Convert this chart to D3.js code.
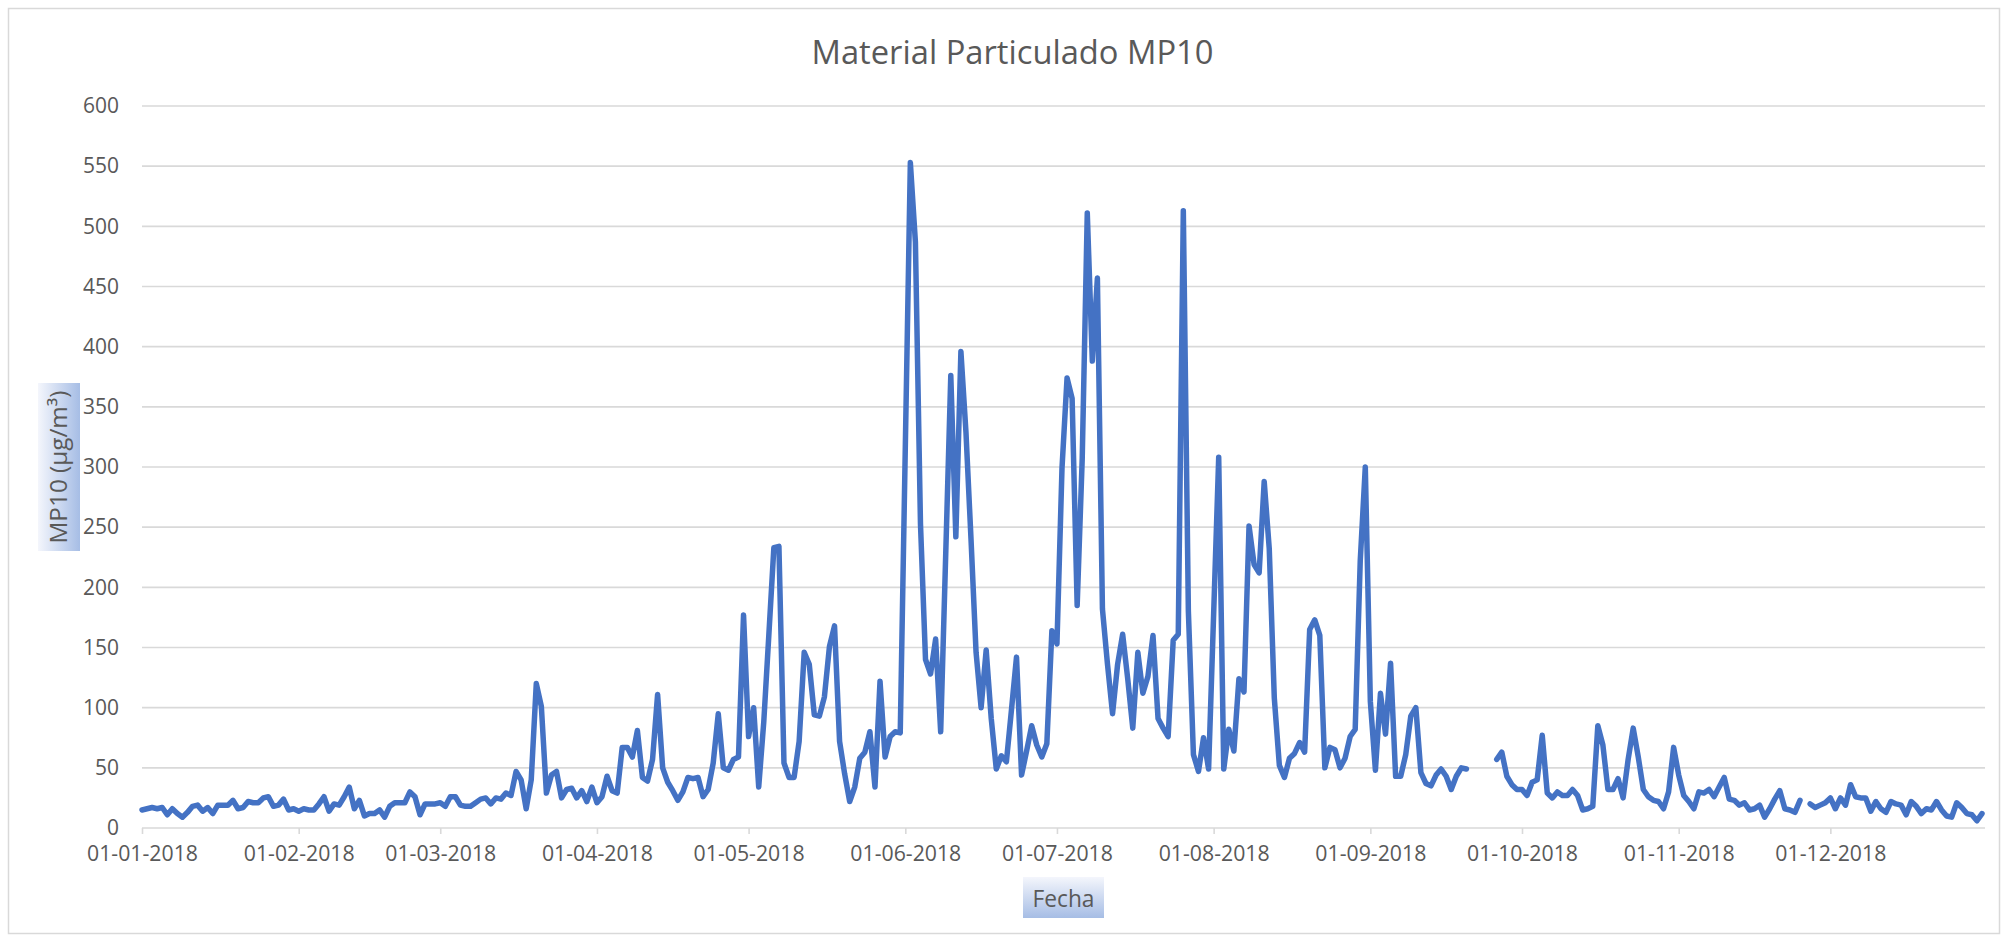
<!DOCTYPE html>
<html>
<head>
<meta charset="utf-8">
<script src="https://cdn.jsdelivr.net/npm/d3@7"></script>
<style>
  html, body { margin: 0; padding: 0; background: #fff; }
  svg { display: block; }
  text { font-family: "Open Sans", "Noto Sans", sans-serif; fill: #595959; }
</style>
</head>
<body>
<svg width="2008" height="942"></svg>
<script>
// daily MP10 values 2018 (null = no data)
const jan = [15, 16, 17, 16, 17, 11, 16, 12, 9, 13, 18, 19, 14, 17, 12, 19, 19, 19, 23, 16, 17, 22, 21, 21, 25, 26, 18, 19, 24, 15, 16];
const feb = [14, 16, 15, 15, 20, 26, 14, 20, 19, 26, 34, 16, 23, 10, 12, 12, 15, 9, 18, 21, 21, 21, 30, 26, 11, 20, 20, 20];
const mar = [21, 18, 26, 26, 19, 18, 18, 21, 24, 25, 20, 25, 24, 29, 27, 47, 40, 16, 40, 120, 101, 29, 44, 47, 25, 32, 33, 25, 31, 22, 34];
const apr = [21, 26, 43, 31, 29, 67, 67, 59, 81, 42, 39, 57, 111, 50, 38, 31, 23, 30, 42, 41, 42, 26, 32, 54, 95, 50, 48, 57, 59, 177];
const may = [76, 100, 34, 88, 160, 233, 234, 54, 42, 42, 72, 146, 136, 94, 93, 109, 151, 168, 72, 45, 22, 34, 58, 63, 80, 34, 122, 59, 76, 80, 79];
const jun = [316, 553, 487, 253, 140, 128, 157, 80, 228, 376, 242, 396, 329, 240, 146, 100, 148, 91, 49, 60, 55, 98, 142, 44, 64, 85, 69, 59, 70, 164];
const jul = [153, 299, 374, 357, 185, 307, 511, 388, 457, 182, 136, 95, 136, 161, 124, 83, 146, 112, 126, 160, 91, 83, 76, 156, 161, 513, 180, 61, 47, 75, 49];
const aug = [178, 308, 49, 82, 64, 124, 113, 251, 219, 212, 288, 232, 108, 52, 42, 58, 62, 71, 63, 165, 173, 160, 50, 67, 65, 50, 58, 76, 82, 222, 300];
const sep = [105, 48, 112, 78, 137, 43, 43, 61, 93, 100, 46, 37, 35, 44, 49, 43, 32, 43, 50, 49, null, null, null, null, null, 57, 63, 43, 36, 32];
const oct = [32, 27, 38, 40, 77, 29, 25, 30, 27, 27, 32, 27, 15, 16, 18, 85, 69, 32, 32, 41, 25, 57, 83, 59, 32, 26, 23, 22, 16, 30, 67];
const nov = [44, 27, 22, 16, 30, 29, 32, 26, 34, 42, 24, 23, 19, 21, 15, 16, 19, 9, 16, 24, 31, 16, 15, 13, 23, null, 20, 17, 19, 21];
const dec = [25, 16, 25, 19, 36, 26, 25, 25, 14, 22, 16, 13, 22, 20, 19, 11, 22, 18, 12, 16, 15, 22, 15, 10, 9, 21, 17, 12, 11, 6, 12];

const yTicks = [0, 50, 100, 150, 200, 250, 300, 350, 400, 450, 500, 550, 600];
const chartTitle = "Material Particulado MP10";
const xTitle = "Fecha";
const yTitle = "MP10 (µg/m³)";

const values = [jan, feb, mar, apr, may, jun, jul, aug, sep, oct, nov, dec].flat();
const data = values.map((v, i) => ({ date: new Date(Date.UTC(2018, 0, 1 + i)), value: v }));

const svg = d3.select("svg");
const width = +svg.attr("width");
const height = +svg.attr("height");

const plotLeft = 142, plotRight = 1982, plotTop = 106, plotBottom = 828;

// scale a text's font size so its rendered width matches the reference
function fitWidth(sel, target) {
    const w = sel.node().getComputedTextLength();
    const fs = parseFloat(sel.attr("font-size"));
    return fs * target / w;
}

// outer chart frame
svg.append("rect")
    .attr("x", 8.5).attr("y", 8.5)
    .attr("width", width - 17).attr("height", height - 17)
    .attr("fill", "#fff")
    .attr("stroke", "#d9d9d9")
    .attr("stroke-width", 1.5);

const x = d3.scaleUtc()
    .domain([new Date(Date.UTC(2018, 0, 1)), new Date(Date.UTC(2018, 11, 31))])
    .range([plotLeft, plotRight]);

const y = d3.scaleLinear()
    .domain([0, 600])
    .range([plotBottom, plotTop]);

// gridlines
svg.append("g")
    .selectAll("line")
    .data(yTicks.filter(t => t > 0))
    .enter().append("line")
    .attr("x1", plotLeft).attr("x2", plotRight + 3)
    .attr("y1", d => y(d)).attr("y2", d => y(d))
    .attr("stroke", "#d9d9d9")
    .attr("stroke-width", 1.6);

// x axis
const monthTicks = d3.utcMonth.range(new Date(Date.UTC(2018, 0, 1)), new Date(Date.UTC(2018, 11, 2)));
const xAxis = svg.append("g")
    .attr("transform", `translate(0,${plotBottom})`)
    .call(d3.axisBottom(x)
        .tickValues(monthTicks)
        .tickFormat(d3.utcFormat("%d-%m-%Y"))
        .tickSize(6)
        .tickSizeOuter(0)
        .tickPadding(12));
xAxis.select(".domain").attr("stroke", "#d9d9d9").attr("stroke-width", 1.6)
    .attr("d", `M${plotLeft},0H${plotRight + 3}`);
xAxis.selectAll(".tick line").attr("stroke", "#d9d9d9").attr("stroke-width", 1.6);
const xLabels = xAxis.selectAll(".tick text")
    .attr("font-size", 21).attr("fill", "#595959")
    .attr("font-family", "Open Sans");
const xFs = fitWidth(xLabels.filter((d, i) => i === 6), 111);
xLabels.attr("font-size", xFs);

// y axis labels
const yAxis = svg.append("g")
    .attr("transform", `translate(${plotLeft},0)`)
    .call(d3.axisLeft(y).tickValues(yTicks).tickSize(0).tickPadding(23));
yAxis.select(".domain").remove();
const yLabels = yAxis.selectAll(".tick text")
    .attr("font-size", 21).attr("fill", "#595959")
    .attr("font-family", "Open Sans");
const yFs = fitWidth(yLabels.filter(d => d === 600), 36);
yLabels.attr("font-size", yFs);

// data line
const line = d3.line()
    .defined(d => d.value != null)
    .x(d => x(d.date))
    .y(d => y(d.value));

svg.append("path")
    .datum(data)
    .attr("d", line)
    .attr("fill", "none")
    .attr("stroke", "#4472c4")
    .attr("stroke-width", 5.5)
    .attr("stroke-linejoin", "round")
    .attr("stroke-linecap", "round");

// title
const titleText = svg.append("text")
    .attr("x", 1012.5).attr("y", 64)
    .attr("text-anchor", "middle")
    .attr("font-size", 30)
    .text(chartTitle);
titleText.attr("font-size", fitWidth(titleText, 402));

// axis title boxes with gradient
const defs = svg.append("defs");
const gx = defs.append("linearGradient").attr("id", "gx")
    .attr("x1", 0).attr("y1", 0).attr("x2", 0).attr("y2", 1);
gx.append("stop").attr("offset", "0%").attr("stop-color", "#f4f6fc");
gx.append("stop").attr("offset", "100%").attr("stop-color", "#a6bde5");
const gy = defs.append("linearGradient").attr("id", "gy")
    .attr("x1", 0).attr("y1", 0).attr("x2", 1).attr("y2", 0);
gy.append("stop").attr("offset", "0%").attr("stop-color", "#f4f6fc");
gy.append("stop").attr("offset", "100%").attr("stop-color", "#a6bde5");

svg.append("rect")
    .attr("x", 1023).attr("y", 877).attr("width", 81).attr("height", 41)
    .attr("fill", "url(#gx)");
const fecha = svg.append("text")
    .attr("x", 1063.5).attr("y", 907)
    .attr("text-anchor", "middle")
    .attr("font-size", 24)
    .text(xTitle);
fecha.attr("font-size", fitWidth(fecha, 62));

svg.append("rect")
    .attr("x", 38).attr("y", 383).attr("width", 42).attr("height", 168)
    .attr("fill", "url(#gy)");
const yt = svg.append("text")
    .attr("transform", "translate(67,467) rotate(-90)")
    .attr("text-anchor", "middle")
    .attr("font-size", 22)
    .text(yTitle);
yt.attr("font-size", fitWidth(yt, 153));
</script>
</body>
</html>
